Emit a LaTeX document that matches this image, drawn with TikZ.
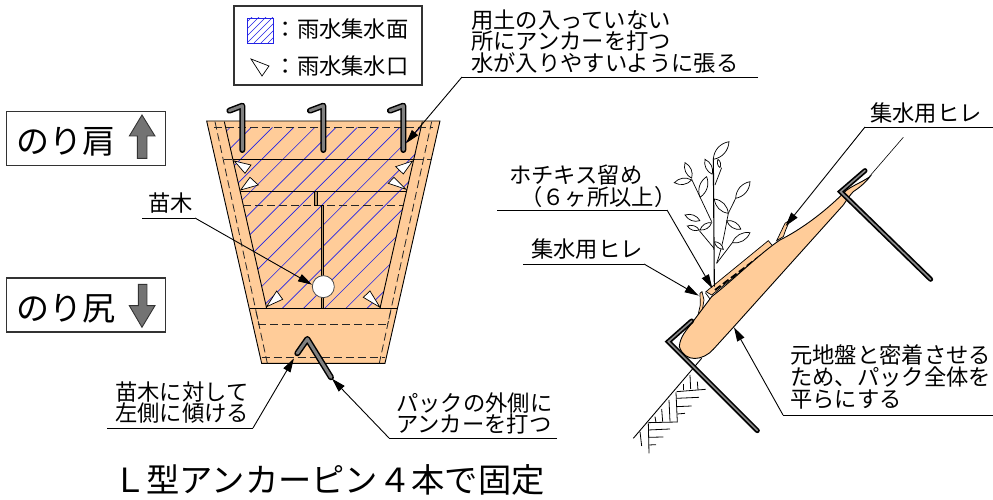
\documentclass[tikz,border=0pt]{standalone}
\usepackage{fontspec}
\setmainfont{Noto Sans CJK JP}
\usetikzlibrary{arrows.meta}
\definecolor{peach}{HTML}{FFCC99}
\definecolor{hatchblue}{HTML}{2222E6}
\definecolor{stemcol}{HTML}{B89468}
\newcommand{\leafshape}[2]{\draw[plantline,fill=white] (#1) to[bend left=38] (#2) to[bend left=38] (#1);}
\tikzset{
  solidline/.style={draw=black,line width=0.9pt},
  dashline/.style={draw=black!85,line width=0.8pt,dash pattern=on 8pt off 4pt},
  hatchline/.style={draw=hatchblue,line width=0.65pt},
  anchorpin/.style={draw=black,line width=6pt,line cap=round,line join=round,postaction={draw=black!50,line width=3pt}},
  darkpin/.style={draw=black,line width=5pt,line cap=round,line join=miter,postaction={draw=black!45,line width=1.6pt}},
  inlet/.style={draw=black,line width=0.7pt,fill=white},
  leader/.style={draw=black,line width=0.9pt},
  pointer/.style={draw=black,line width=0.9pt,-{Triangle[length=14pt,width=8pt]}},
  labeltext/.style={anchor=west,inner sep=0pt,align=left,font=\fontsize{22.3}{21.8}\selectfont},
  bigtext/.style={anchor=west,inner sep=0pt,font=\fontsize{33}{33}\selectfont},
  framebox/.style={draw=black!80,line width=1.1pt,fill=white},
  blockarrow/.style={draw=black!80,line width=0.9pt,fill=black!55},
  plantline/.style={draw=black,line width=0.7pt}
}
\begin{document}
\begin{tikzpicture}[x=1pt,y=-1pt]
\useasboundingbox (0,0) rectangle (993,500);
% legend
\node[framebox,minimum width=188pt,minimum height=79pt,inner sep=0pt] (legend) at (328,45.5) {};
\begin{scope}
\clip (247,18) rectangle (273,43);
\foreach \k in {0,...,9} \draw[hatchblue,line width=0.6pt] ({247+\k*7},43) -- ++(30,-30);
\foreach \k in {1,...,4} \draw[hatchblue,line width=0.6pt] (247,{43-\k*7}) -- ++(30,-30);
\end{scope}
\draw[hatchblue,line width=0.8pt] (247,18) rectangle (273,43);
\draw[inlet] (251,59) -- (269,66) -- (262,76) -- cycle;
\node[labeltext] (legA) at (274.5,29) {：雨水集水面};
\node[labeltext] (legB) at (274.5,66) {：雨水集水口};
% slope boxes
\node[framebox,minimum width=159pt,minimum height=54pt,inner sep=0pt] (shoulder) at (86.2,138.7) {};
\node[framebox,minimum width=159pt,minimum height=54pt,inner sep=0pt] (toe) at (86.2,305) {};
\node[bigtext] (shoulderT) at (16,142) {のり肩};
\node[bigtext] (toeT) at (16,309) {のり尻};
\begin{scope}[shift={(0,100)},x=0.3333pt,y=-0.3333pt]
\draw[blockarrow] (426,45) -- (465,108) -- (441,108) -- (441,175) -- (412,175) -- (412,108) -- (388,108) -- cycle;
\draw[blockarrow] (426,682) -- (465,617) -- (441,617) -- (441,553) -- (415,553) -- (415,617) -- (388,617) -- cycle;
\end{scope}
% pack plan
\begin{scope}[shift={(190,90)},x=0.3333pt,y=-0.3333pt]
\fill[peach] (50,93) -- (750,93) -- (585,820) -- (215,820) -- cycle;
\begin{scope}
\clip (107,112) -- (695,112) -- (570,655) -- (230,655) -- cycle;
\foreach \k in {-4,...,45} \draw[hatchline] ({296+\k*63.6-400},400) -- ++(1000,-1000) ++(-1000,1000) -- ++(-600,600);
\end{scope}
\draw[solidline] (50,93) -- (750,93) -- (585,820) -- (215,820) -- cycle;
\draw[solidline] (103,95) -- (230,655);
\draw[solidline] (697,95) -- (570,655);
\draw[solidline] (128,207) -- (675,207);
\draw[solidline] (150,303) -- (650,303);
\draw[solidline] (180,655) -- (620,655);
\draw[dashline] (72,112) -- (728,112);
\draw[dashline] (103,207) -- (128,207);
\draw[dashline] (675,207) -- (725,207);
\draw[dashline] (160,347) -- (640,347);
\draw[dashline] (205,702) -- (595,702);
\draw[dashline] (215,803) -- (585,803);
\draw[dashline] (75,95) -- (232,820);
\draw[dashline] (725,95) -- (568,820);
\draw[dashline] (198,665) -- (207,702);
\draw[dashline] (602,665) -- (593,702);
% stem
\draw[draw=black,line width=0.5pt,fill=stemcol] (373,305) rectangle (383,347);
\draw[draw=black,line width=0.5pt,fill=stemcol] (393,347) rectangle (401,655);
\node[circle,draw=black!70,line width=0.8pt,fill=white,minimum size=22pt,inner sep=0pt] (seedling) at (400,590) {};
% inlets
\draw[inlet] (133,213) -- (183,225) -- (165,250) -- cycle;
\draw[inlet] (152,300) -- (205,285) -- (180,262) -- cycle;
\draw[inlet] (668,213) -- (617,230) -- (640,252) -- cycle;
\draw[inlet] (648,298) -- (595,280) -- (612,262) -- cycle;
\draw[inlet] (230,650) -- (278,628) -- (260,603) -- cycle;
\draw[inlet] (570,652) -- (520,622) -- (540,603) -- cycle;
% pins
\draw[anchorpin] (157,180) -- (157,47) -- (118,62);
\draw[anchorpin] (400,180) -- (400,47) -- (360,62);
\draw[anchorpin] (640,180) -- (640,47) -- (600,62);
\draw[anchorpin] (423,862) -- (352,747) -- (322,790);
% target coordinates
\coordinate (pinTip) at (648,160);
\coordinate (footTip) at (312,805);
\coordinate (seedTip) at (366,584);
\coordinate (outerTip) at (426,866);
\end{scope}
% left labels
\node[labeltext] (topNote) at (471,41.5) {用土の入っていない\\所にアンカーを打つ\\水が入りやすいように張る};
\coordinate (topA) at (462,77); \coordinate (topB) at (758,77);
\draw[leader] (topB) -- (topA);
\draw[pointer] (topA) -- (pinTip);
\node[labeltext] (seedT) at (148,203) {苗木};
\coordinate (seedA) at (142,218); \coordinate (seedB) at (195,218);
\draw[leader] (seedA) -- (seedB);
\draw[pointer] (seedB) -- (seedTip);
\node[labeltext] (tiltT) at (115,402.5) {苗木に対して\\左側に傾ける};
\coordinate (tiltA) at (107,428); \coordinate (tiltB) at (253,428);
\draw[leader] (tiltA) -- (tiltB);
\draw[pointer] (tiltB) -- (footTip);
\node[labeltext] (outerT) at (396,413.5) {パックの外側に\\アンカーを打つ};
\coordinate (outerA) at (557,438); \coordinate (outerB) at (389,438);
\draw[leader] (outerA) -- (outerB);
\draw[pointer] (outerB) -- (outerTip);
\node[anchor=west,inner sep=0pt,font=\fontsize{33.3}{33}\selectfont] (title) at (113,480) {Ｌ型アンカーピン４本で固定};
% section view
\begin{scope}[shift={(620,120)},x=0.3333pt,y=-0.3333pt]
\draw[draw=black,line width=0.6pt] (850,52) -- (748,170);
% ground line
\draw[solidline] (40,955) -- (245,715);
% flaps
\draw[draw=black,line width=0.7pt,fill=peach] (470,362) -- (495,310) -- (510,300) -- (497,330) -- (490,350) -- cycle;
\draw[draw=black,line width=0.7pt,fill=peach] (258,515) -- (445,362) -- (458,378) -- (275,525) -- cycle;
\draw[draw=black,line width=1.8pt,dash pattern=on 7pt off 3pt] (285,510) -- (440,393);
\draw[draw=black,line width=0.7pt,fill=peach] (240,520) -- (246,515) -- (252,540) -- (247,570) -- (236,600) -- (233,590) -- (241,555) -- cycle;
\draw[draw=black,line width=0.7pt] (256,518) -- (276,545);
% bag
\draw[solidline,fill=peach] (178,680) .. controls (180,650) and (200,630) .. (215,610)
  -- (275,530) .. controls (340,480) and (420,400) .. (480,360)
  .. controls (540,330) and (610,280) .. (675,215)
  .. controls (690,200) and (720,190) .. (750,170)
  .. controls (735,190) and (715,205) .. (700,215)
  .. controls (690,225) and (680,240) .. (670,255)
  -- (340,622) -- (280,688) .. controls (250,722) and (195,730) .. (178,680) -- cycle;
% pins
\draw[darkpin] (412,932) -- (145,665) -- (215,603);
\draw[darkpin] (932,478) -- (662,215) -- (735,152);
\coordinate (finTopTip) at (497,318);
\coordinate (staplesTip) at (277,505);
\coordinate (finLowTip) at (236,527);
\coordinate (flatTip) at (342,622);
\end{scope}
% ground hatching
\begin{scope}[shift={(620,290)},x=0.3333pt,y=-0.3333pt]
\foreach \a/\b/\c/\d in {60/425/65/468,85/400/87/490,105/380/108/398,125/357/128/395,147/330/150/395,168/307/172/397,190/282/190/300,210/255/212/297,232/275/234/300,85/420/150/417,85/442/130/441,87/465/108/464,85/398/172/396,172/372/195/370,170/350/215/348,170/325/237/322,170/305/257/298}
  \draw[draw=black,line width=0.8pt] (\a,\b) -- (\c,\d);
\end{scope}
% plant
\begin{scope}[shift={(660,130)},x=0.3333pt,y=-0.3333pt]
\draw[plantline,line width=1.1pt] (160,85) -- (163,470);
\draw[plantline] (155,275) -- (95,148);
\draw[plantline] (170,400) .. controls (190,340) and (195,300) .. (205,250) -- (227,205);
\draw[plantline] (162,355) -- (118,302);
\draw[plantline] (170,400) -- (217,338);
\draw[plantline] (165,165) -- (185,113);
\leafshape{160,88}{207,35}
\leafshape{180,113}{174,88}
\leafshape{157,133}{135,88}
\leafshape{95,145}{75,98}
\leafshape{95,150}{43,158}
\leafshape{120,202}{140,140}
\leafshape{227,205}{270,155}
\leafshape{205,250}{163,207}
\leafshape{243,298}{200,272}
\leafshape{120,272}{75,255}
\leafshape{118,300}{82,288}
\leafshape{120,300}{155,278}
\leafshape{217,338}{270,308}
\leafshape{163,335}{190,358}
\end{scope}
% right labels
\node[labeltext] (finTopT) at (870,113) {集水用ヒレ};
\coordinate (finTopA) at (993,127); \coordinate (finTopB) at (865,127);
\draw[leader] (finTopA) -- (finTopB);
\draw[pointer] (finTopB) -- (finTopTip);
\node[labeltext] (staplesT) at (509,186.5) {ホチキス留め\\\hspace*{11pt}（６ヶ所以上）};
\coordinate (staplesA) at (497,210); \coordinate (staplesB) at (667,210);
\draw[leader] (staplesA) -- (staplesB);
\draw[pointer] (staplesB) -- (staplesTip);
\node[labeltext] (finLowT) at (531,249) {集水用ヒレ};
\coordinate (finLowA) at (523,264); \coordinate (finLowB) at (644,264);
\draw[leader] (finLowA) -- (finLowB);
\draw[pointer] (finLowB) -- (finLowTip);
\node[labeltext] (flatT) at (790,377) {元地盤と密着させる\\ため、パック全体を\\平らにする};
\coordinate (flatA) at (993,415); \coordinate (flatB) at (783,415);
\draw[leader] (flatA) -- (flatB);
\draw[pointer] (flatB) -- (flatTip);
\end{tikzpicture}
\end{document}
